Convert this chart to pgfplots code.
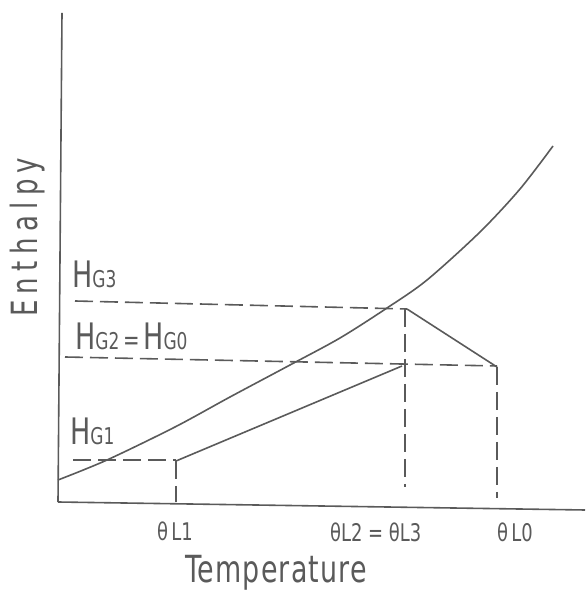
\documentclass[border=0pt]{standalone}
\usepackage{pgfplots}
\pgfplotsset{compat=1.18}
\usepackage{fontspec}
\setmainfont{DejaVu Sans Condensed}
\definecolor{ink}{HTML}{5A5A5A}
\newcommand{\fs}[1]{\fontsize{#1}{#1}\selectfont}
\newcommand{\tall}[2][1.22]{\scalebox{1}[#1]{#2}}
\tikzset{ln/.style={ink, line width=1.6bp, mark=none}, dl/.style={ln, dash pattern=on 18bp off 7bp},
  lb/.style={ink, anchor=base west, inner sep=0}}
\begin{document}
\begin{tikzpicture}
\begin{axis}[
  width=585bp, height=591bp, scale only axis,
  xmin=0, xmax=585, ymin=0, ymax=591,
  hide axis, clip=false,
]
\path (rel axis cs:0,0) rectangle (rel axis cs:1,1);
% axes
\addplot[ln] coordinates {(62,578) (58,89)};
\addplot[ln] coordinates {(58,89) (585,81)};
% equilibrium curve
\addplot[ln, smooth, tension=0.5] coordinates {
 (58,111) (107,131) (175,164) (230,194) (290,226) (340,253)
 (387,283) (427,311) (480,359) (520,402) (553,445)};
% operating line
\addplot[ln] coordinates {(176,130) (402,225)};
% tie line
\addplot[ln] coordinates {(407,282) (497,224)};
% dashed lines
\addplot[dl] coordinates {(75,290) (407,282)};
\addplot[dl] coordinates {(65,234) (497,225)};
\addplot[dl] coordinates {(73,131) (176,131)};
\addplot[dl] coordinates {(176,130) (176,89)};
\addplot[dl] coordinates {(405,282) (405,104)};
\addplot[dl] coordinates {(497,224) (497,93)};
% labels
\node[lb] at (axis cs:72,303) {\tall{\fs{30}H\fs{19}G3}};
\node[lb] at (axis cs:75,241) {\tall{\fs{30}H\fs{19}G2\fs{22}\,=\,\fs{30}H\fs{19}G0}};
\node[lb] at (axis cs:70,146) {\tall{\fs{30}H\fs{19}G1}};
\node[lb] at (axis cs:157,50) {\tall{\fs{20}θ\,L1}};
\node[lb] at (axis cs:330,49) {\tall{\fs{20}θL2 = θL3}};
\node[lb] at (axis cs:497,49) {\tall{\fs{20}θ\,L0}};
\node[lb] at (axis cs:185,8) {\tall[1.25]{\fs{30}\addfontfeature{LetterSpace=4}Temperature}};
\node[lb, rotate=90] at (axis cs:38,274) {\tall[1.25]{\fs{29}\addfontfeature{LetterSpace=22}Enthalpy}};
\end{axis}
\end{tikzpicture}
\end{document}
